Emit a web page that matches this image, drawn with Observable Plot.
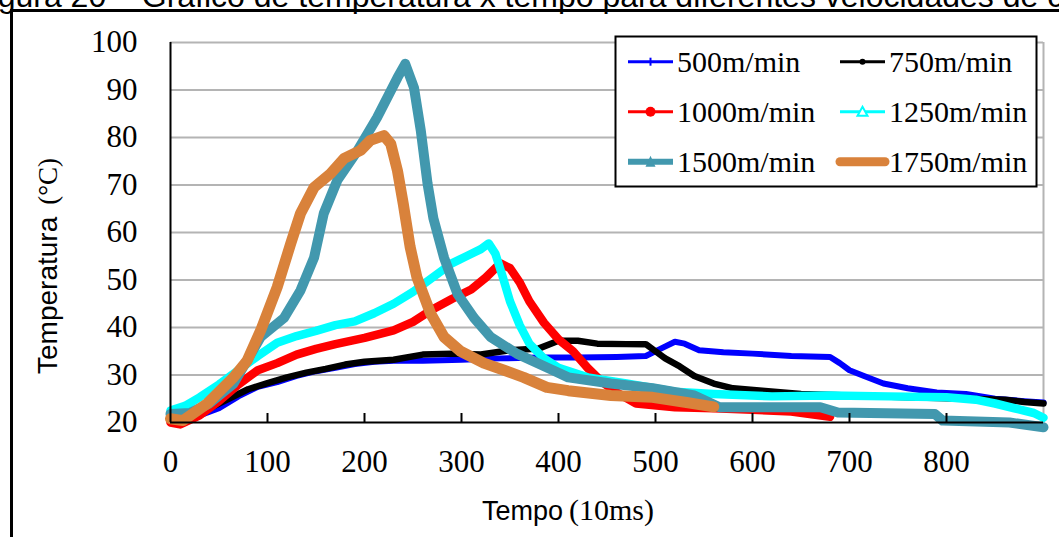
<!DOCTYPE html>
<html><head><meta charset="utf-8">
<script src="https://cdn.jsdelivr.net/npm/d3@7"></script>
<script src="https://cdn.jsdelivr.net/npm/@observablehq/plot@0.6"></script>
<style>
body{margin:0;background:#fff;}
#wrap{position:relative;width:1059px;height:537px;overflow:hidden;background:#fff;}
#title{position:absolute;left:-29px;top:-20px;font-family:"Liberation Sans",Arial,sans-serif;font-size:32px;line-height:32px;white-space:nowrap;color:#000;}
#frame{position:absolute;left:10px;top:9px;width:1200px;height:700px;border:3px solid #000;box-sizing:border-box;}
#chart{position:absolute;left:0;top:0;}
#legend{position:absolute;left:614px;top:35px;}
.sans{font-family:"Liberation Sans",Arial,sans-serif !important;}
.serif{font-family:"Liberation Serif","Times New Roman",serif !important;}
</style></head><body>
<div id="wrap">
<div id="title">Figura 20 – Gráfico de temperatura x tempo para diferentes velocidades de corte</div>
<div id="frame"></div>
<div id="chart"></div>
<div id="legend"></div>
</div>
<script>
// ---- data ----
const seriesNames = ["500m/min","750m/min","1000m/min","1250m/min","1500m/min","1750m/min"];
const xTicks = [0,100,200,300,400,500,600,700,800];
const yTicks = [20,30,40,50,60,70,80,90,100];

const t500 = [0,15,30,50,70,90,110,130,150,170,190,210,230,260,300,340,380,420,460,490,505,520,530,545,570,600,640,680,690,700,715,735,760,790,820,850,880,900];
const T500 = [21,21,21.5,23,25.5,27.5,28.5,29.8,30.8,31.5,32.3,32.8,33,33,33.2,33.5,33.7,33.7,33.8,34,35.5,37,36.6,35.2,34.8,34.5,34,33.8,32.5,31,29.8,28.2,27.2,26.3,26,25,24.5,24.2];

const t750 = [0,20,40,60,80,100,120,140,160,180,200,230,260,290,320,350,380,400,420,440,470,490,500,510,525,540,560,580,610,650,700,760,820,860,880,900];
const T750 = [21,21.3,23,25,27,28.3,29.5,30.5,31.3,32.2,32.8,33.2,34.3,34.5,34.3,35.2,35.6,37.2,37.2,36.6,36.5,36.5,35,33.5,31.8,29.8,28.2,27.2,26.7,26,25.7,25.3,25,24.8,24.3,24];

const t1000 = [0,10,30,50,70,90,110,130,150,170,200,230,250,270,290,310,325,340,350,360,370,385,400,415,430,445,460,480,520,560,600,640,680];
const T1000 = [20,19.6,21.5,24.5,28,31,32.5,34.3,35.5,36.5,37.8,39.4,41.2,43.8,46,48,50.5,53.5,52.5,49.5,45.5,41,37.5,35,31.5,28.5,26.3,24,23.2,23,22.7,22.3,21.2];

const t1250 = [0,15,30,50,70,90,110,130,150,170,190,210,230,250,270,290,305,320,328,335,342,350,360,370,385,400,430,470,520,560,620,680,740,800,830,850,870,890,900];
const T1250 = [22.5,23.5,25.3,28,31,34,36.8,38.2,39.3,40.5,41.3,43,45,47.5,50.5,53.5,55,56.5,57.7,55.5,51,45.5,40.5,36.6,33.5,31.5,29.5,28.2,26.5,26,25.5,25.7,25.5,25.3,24.8,24,23,22,21];

const t1500 = [0,20,40,65,93,117,134,148,158,172,193,213,234,242,251,258,265,271,282,296,313,330,357,392,410,454,497,540,566,627,670,688,788,796,865,900];
const T1500 = [21.8,22,24,28.2,38,42,47.8,54.7,64,71,77.3,84.2,92.6,95.5,90.5,81.5,70.3,63,54.7,47,42,38,34.5,31.2,29.5,28.2,27.2,25.7,23.2,23.2,23.2,22.1,21.8,20.4,20,19];

const t1750 = [0,13,38,65,79,93,110,124,134,148,165,179,196,206,220,227,234,240,247,254,268,282,299,323,344,364,388,410,454,497,532,560];
const T1750 = [20.8,20.4,24,29.5,33,39.4,48.5,57.7,64,69.5,72.4,75.6,77.3,79.4,80.4,78.7,73,66,57,50.6,43,38,35,32.5,31,29.5,27.4,26.7,25.7,25.3,24.2,23.3];

// ---- styles ----
const colors = ["#0000ff","#000000","#ff0000","#00ffff","#4298ae","#d9823b"];
const widths = [6,6.5,8.5,8.5,10,11];

const times = [t500,t750,t1000,t1250,t1500,t1750];
const temps = [T500,T750,T1000,T1250,T1500,T1750];

const lineMarks = times.map((ts, k) =>
  Plot.line(ts.map((t, i) => ({t, T: temps[k][i]})), {
    x: "t", y: "T", stroke: colors[k], strokeWidth: widths[k],
    strokeLinejoin: "round", strokeLinecap: "round"
  })
);

const chart = Plot.plot({
  width: 1059, height: 537,
  marginLeft: 170, marginRight: 16, marginTop: 42, marginBottom: 115,
  x: {domain: [0, 900]},
  y: {domain: [20, 100]},
  style: {fontFamily: '"Liberation Serif","Times New Roman",serif', fontSize: "31px", background: "transparent", color: "#000", overflow: "visible"},
  marks: [
    Plot.ruleY(yTicks.slice(1), {stroke: "#b4b4b4", strokeWidth: 2}),
    Plot.ruleX([900], {stroke: "#b4b4b4", strokeWidth: 2}),
    ...lineMarks,
    Plot.ruleX([0], {stroke: "#000", strokeWidth: 2}),
    Plot.ruleY([20], {stroke: "#000", strokeWidth: 2}),
    Plot.ruleX(xTicks.slice(1), {x: d => d, y1: 20, y2: 20, insetTop: -9, stroke: "#000", strokeWidth: 2}),
    Plot.axisY({ticks: yTicks, tickSize: 0, tickPadding: 33, label: null}),
    Plot.axisX({ticks: xTicks, tickSize: 0, tickPadding: 27, label: null})
  ]
});
document.getElementById("chart").appendChild(chart);

// axis titles (mixed fonts)
const svg = d3.select(chart);
const xt = svg.append("text").attr("x", 482).attr("y", 520).attr("text-anchor", "start").attr("fill", "#000");
xt.append("tspan").attr("class", "sans").style("font-size", "27px").text("Tempo");
xt.append("tspan").attr("class", "serif").attr("dx", 6).style("font-size", "30px").text("(10ms)");

const yt = svg.append("text").attr("transform", "translate(57,266) rotate(-90)").attr("text-anchor", "middle").attr("fill", "#000");
yt.append("tspan").attr("class", "sans").style("font-size", "28px").text("Temperatura");
yt.append("tspan").attr("class", "serif").attr("dx", 12).style("font-size", "27px").text("(°C)");

// legend
const lg = d3.select("#legend").append("svg").attr("width", 425).attr("height", 154);
lg.append("rect").attr("x", 1.5).attr("y", 1.5).attr("width", 421).attr("height", 150).attr("fill", "#fff").attr("stroke", "#000").attr("stroke-width", 2);
const rowsY = [26.7, 76.7, 126.7];
const colX = [14, 226];
const legW = [3, 3, 3, 3, 6, 9];
seriesNames.forEach((name, k) => {
  const cx = colX[k % 2], cy = rowsY[Math.floor(k / 2)];
  const g = lg.append("g");
  g.append("line").attr("x1", cx).attr("x2", cx + 45).attr("y1", cy).attr("y2", cy)
    .attr("stroke", colors[k]).attr("stroke-width", legW[k]).attr("stroke-linecap", k === 5 ? "round" : "butt");
  const mx = cx + 22.5;
  if (k === 0) g.append("line").attr("x1", mx).attr("x2", mx).attr("y1", cy - 4).attr("y2", cy + 4).attr("stroke", colors[k]).attr("stroke-width", 2);
  if (k === 1) g.append("circle").attr("cx", mx).attr("cy", cy).attr("r", 3).attr("fill", colors[k]);
  if (k === 2) g.append("circle").attr("cx", mx).attr("cy", cy).attr("r", 5).attr("fill", colors[k]);
  if (k === 3) g.append("path").attr("d", `M${mx},${cy-5}L${mx+5},${cy+4}L${mx-5},${cy+4}Z`).attr("fill", "#fff").attr("stroke", colors[k]).attr("stroke-width", 2);
  if (k === 4) g.append("path").attr("d", `M${mx},${cy-6}L${mx+5},${cy+5}L${mx-5},${cy+5}Z`).attr("fill", colors[k]);
  g.append("text").attr("class", "serif").attr("x", cx + 49).attr("y", cy).attr("dy", "0.35em")
    .style("font-size", "30px").attr("fill", "#000").text(name);
});
</script>
</body></html>
